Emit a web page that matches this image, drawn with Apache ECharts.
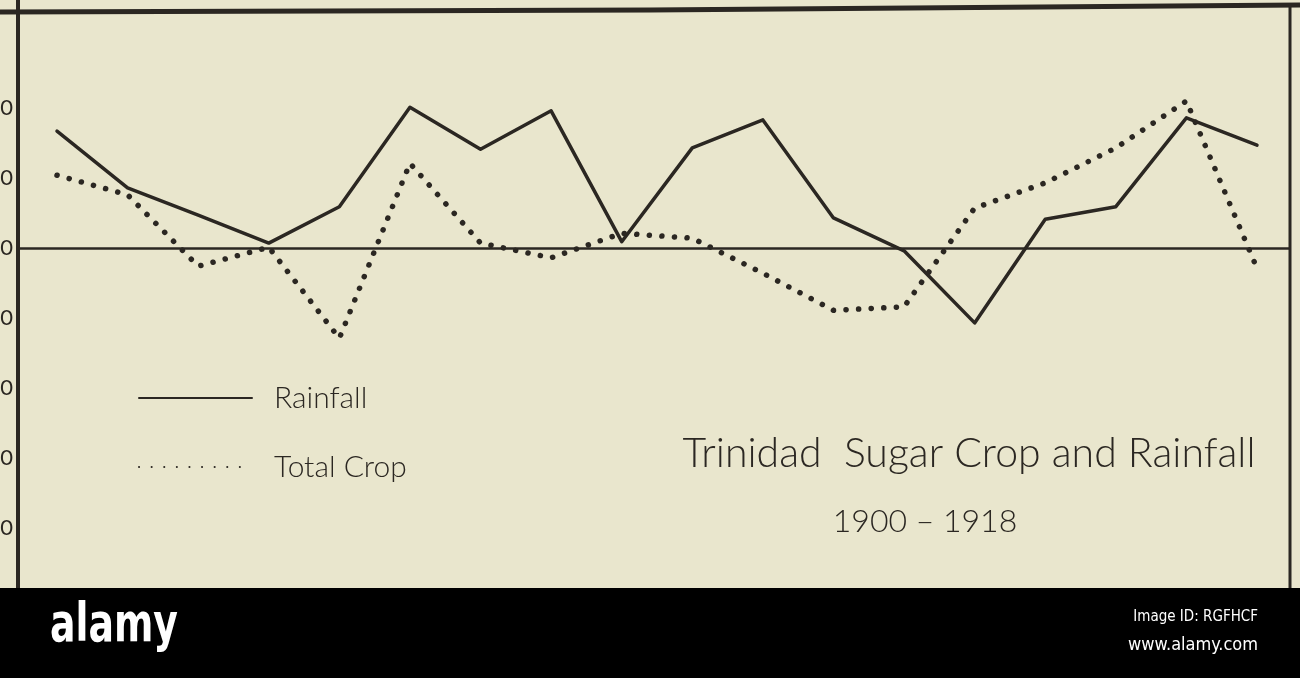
<!DOCTYPE html>
<html>
<head>
<meta charset="utf-8">
<script src="https://cdn.jsdelivr.net/npm/echarts@6/dist/echarts.min.js"></script>
<style>
html,body{margin:0;padding:0;background:#e9e6cd;}
#chart{width:1300px;height:678px;}
</style>
</head>
<body>
<div id="chart"></div>
<script>
// Data (index units; baseline = 150)
const years = [1901,1902,1903,1904,1905,1906,1907,1908,1909,1910,1911,1912,1913,1914,1915,1916,1917,1918];
const rainfall = [166.7,158.6,154.7,150.7,155.9,170.1,164.1,169.6,150.9,164.3,168.3,154.3,149.6,139.3,154.1,155.9,168.6,164.7];
const totalCrop = [160.4,157.6,147.4,150.1,137.1,162.1,150.7,148.6,152.1,151.4,146.4,141.1,141.6,155.7,159.3,164.3,171.0,147.1];
const tickValues = [170,160,150,140,130,120,110];
const tickLabels = ['170','160','150','140','130','120','110'];
const baselineValue = 150;
const seriesNames = ['Rainfall','Total Crop'];
const titleText = 'Trinidad  Sugar Crop and Rainfall';
const subtitleText = '1900 \u2013 1918';

const ink = '#2b2722';
const hand = 'Lato, "Open Sans", sans-serif';

const chart = echarts.init(document.getElementById('chart'), null, {renderer:'canvas'});
const option = {
  backgroundColor: '#e9e6cd',
  animation: false,
  title: [
    {text: titleText, left: 964, top: 428, textAlign: 'center',
     textStyle: {fontFamily: hand, fontWeight: 300, fontSize: 41, color: ink}},
    {text: subtitleText, left: 920, top: 501, textAlign: 'center',
     textStyle: {fontFamily: hand, fontWeight: 300, fontSize: 32, color: ink}}
  ],
  legend: {
    orient: 'vertical', left: 133, top: 378, itemWidth: 113, itemHeight: 28, itemGap: 39,
    itemStyle: {color: 'transparent', borderColor: 'transparent', borderWidth: 0},
    textStyle: {fontFamily: hand, fontWeight: 300, fontSize: 30, color: ink, padding: [0,0,0,17]},
    data: seriesNames
  },
  grid: {left: 18, right: 10, top: -32, bottom: 80, containLabel: false, outerBoundsMode: 'none'},
  xAxis: {
    type: 'value', min: 1900.4475, max: 1918.4675, show: false
  },
  yAxis: {
    type: 'value', min: 100, max: 190, interval: 10,
    axisLine: {show: true, lineStyle: {color: ink, width: 4}},
    axisTick: {show: false},
    splitLine: {show: false},
    axisLabel: {
      margin: 5, fontSize: 22, color: ink, fontFamily: hand,
      formatter: function(v){ const i = tickValues.indexOf(v); return i >= 0 ? tickLabels[i] : ''; }
    }
  },
  series: [
    {
      name: seriesNames[0], type: 'line', symbol: 'none', showSymbol: false,
      data: years.map((y,i)=>[y, rainfall[i]]),
      lineStyle: {color: ink, width: 3.5, cap: 'round', join: 'round'},
      itemStyle: {color: ink},
      markLine: {
        silent: true, symbol: 'none', label: {show: false},
        lineStyle: {color: ink, width: 2.5, type: 'solid'},
        data: [{yAxis: baselineValue}]
      }
    },
    {
      name: seriesNames[1], type: 'line', symbol: 'none', showSymbol: false,
      data: years.map((y,i)=>[y, totalCrop[i]]),
      lineStyle: {color: ink, width: 5.5, type: [0.1, 12.5], cap: 'round', join: 'round'},
      itemStyle: {color: ink}
    }
  ],
  graphic: [
    {type: 'polyline', z: 50, shape: {points: [[0,12],[650,10],[1300,5]]},
     style: {stroke: ink, lineWidth: 5, fill: null}},
    {type: 'line', z: 50, shape: {x1: 1290, y1: 5, x2: 1290, y2: 590},
     style: {stroke: ink, lineWidth: 3}},
    {type: 'rect', z: 100, shape: {x: 0, y: 588, width: 1300, height: 90},
     style: {fill: '#000'}},
    {type: 'text', z: 101, x: 50, y: 600, scaleX: 0.7,
     style: {text: 'alamy', fill: '#fff', font: 'bold 54px "DejaVu Sans", sans-serif'}},
    {type: 'text', z: 101, right: 42, top: 610,
     style: {text: 'Image ID: RGFHCF', fill: '#fff', font: '15px "DejaVu Sans Condensed", "Liberation Sans Narrow", sans-serif', textAlign: 'right'}},
    {type: 'text', z: 101, right: 42, top: 636,
     style: {text: 'www.alamy.com', fill: '#fff', font: '18px "DejaVu Sans Condensed", "Liberation Sans Narrow", sans-serif', textAlign: 'right'}}
  ]
};
chart.setOption(option);
</script>
</body>
</html>
